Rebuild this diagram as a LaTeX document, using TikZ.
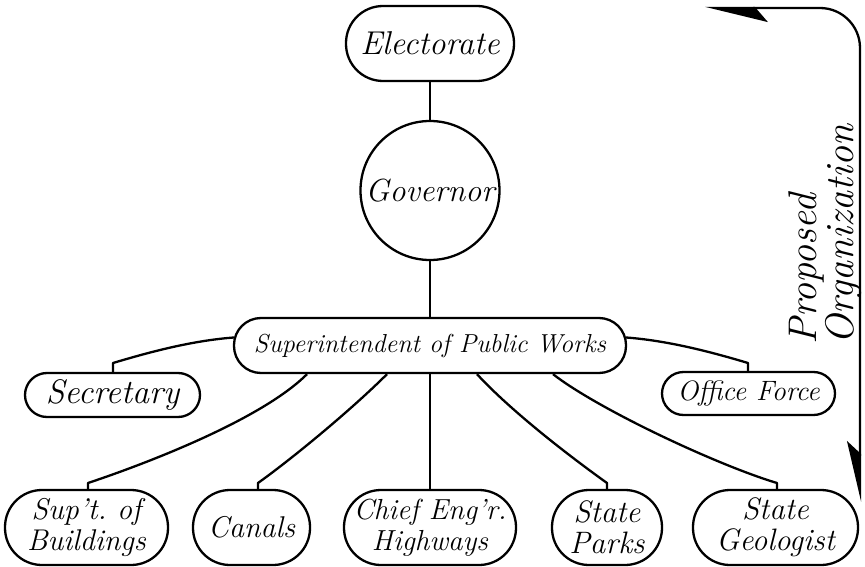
\documentclass[tikz,border=0pt]{standalone}
\usetikzlibrary{calc,arrows.meta}

\tikzset{
  pill/.style={draw, line width=2.3pt, rounded corners=#1, inner sep=0pt,
               align=center},
  orb/.style={draw, circle, line width=2.3pt, inner sep=0pt, align=center},
  fs/.style={font=\itshape\fontsize{#1}{31}\selectfont},
  link/.style={line width=2.3pt, line join=round},
  bracketline/.style={line width=2.3pt, rounded corners=40pt,
    {Stealth[harpoon, length=58pt, width=28pt, inset=12pt]}-{Stealth[harpoon, swap, length=56pt, width=26pt, inset=12pt]}}
}

\begin{document}
\begin{tikzpicture}[x=1pt, y=-1pt]
\useasboundingbox (0,0) rectangle (865,567);

% top of the chain
\node[pill=37pt, fs=33, minimum width=168pt, minimum height=75pt] (elec) at (430,43.5)
  {Electorate};
\node[orb, fs=32, minimum size=139pt] (gov) at (430,190.5)
  {Governor};
\node[pill=27pt, fs=26, minimum width=392pt, minimum height=55pt] (sup) at (430,345.5)
  {Superintendent of Public Works};

% side offices
\node[pill=22pt, fs=34, minimum width=175pt, minimum height=44pt] (sec) at (112.5,395)
  {Secretary};
\node[pill=21.5pt, fs=28, minimum width=173pt, minimum height=43pt] (off) at (748.5,393.5)
  {Office Force};

% bureaus
\node[pill=37pt, fs=30, minimum width=163pt, minimum height=75pt] (bld) at (86.5,527.5)
  {Sup't.~of\\Buildings};
\node[pill=37pt, fs=30, minimum width=117pt, minimum height=75pt] (can) at (251.5,527.5)
  {Canals};
\node[pill=37pt, fs=29, minimum width=172pt, minimum height=75pt] (eng) at (430,527.5)
  {Chief Eng'r.\\Highways};
\node[pill=37pt, fs=31, minimum width=110pt, minimum height=75pt] (prk) at (607,527.5)
  {State\\Parks};
\node[pill=37pt, fs=31, minimum width=165pt, minimum height=75pt] (geo) at (775.5,527.5)
  {State\\Geologist};

% vertical spine
\draw[link] (elec.south) -- (gov.north);
\draw[link] (gov.south) -- (sup.north);
\draw[link] (sup.south) -- (eng.north);

% bends just above each box
\coordinate (kSec) at (113,363);
\coordinate (kOff) at (748,363);
\coordinate (kBld) at (88,483);
\coordinate (kCan) at (258,483);
\coordinate (kPrk) at (607,483);
\coordinate (kGeo) at (777,483);

\draw[link] ($(sup.west)+(1,-8)$) .. controls +(-40,3) and +(40,-12) .. (kSec) -- (kSec |- sec.north);
\draw[link] ($(sup.east)+(-1,-8)$) .. controls +(40,3) and +(-40,-12) .. (kOff) -- (kOff |- off.north);
\draw[link] ($(sup.south)+(-123,0)$) .. controls +(-45,45) and +(60,-20) .. (kBld) -- (kBld |- bld.north);
\draw[link] ($(sup.south)+(-43,0)$) .. controls +(-35,35) and +(35,-25) .. (kCan) -- (kCan |- can.north);
\draw[link] ($(sup.south)+(47,0)$) .. controls +(35,38) and +(-35,-25) .. (kPrk) -- (kPrk |- prk.north);
\draw[link] ($(sup.south)+(123,0)$) .. controls +(45,35) and +(-60,-18) .. (kGeo) -- (kGeo |- geo.north);

% bracket with its caption
\coordinate (bTop) at (705,8);
\coordinate (bBot) at (860,502);
\draw[bracketline] (bTop) -| (bBot);
\node[rotate=90, align=left, anchor=west, font=\itshape\fontsize{40}{34}\selectfont] (cap) at (825,348)
  {Proposed\\Organization};
\end{tikzpicture}
\end{document}
